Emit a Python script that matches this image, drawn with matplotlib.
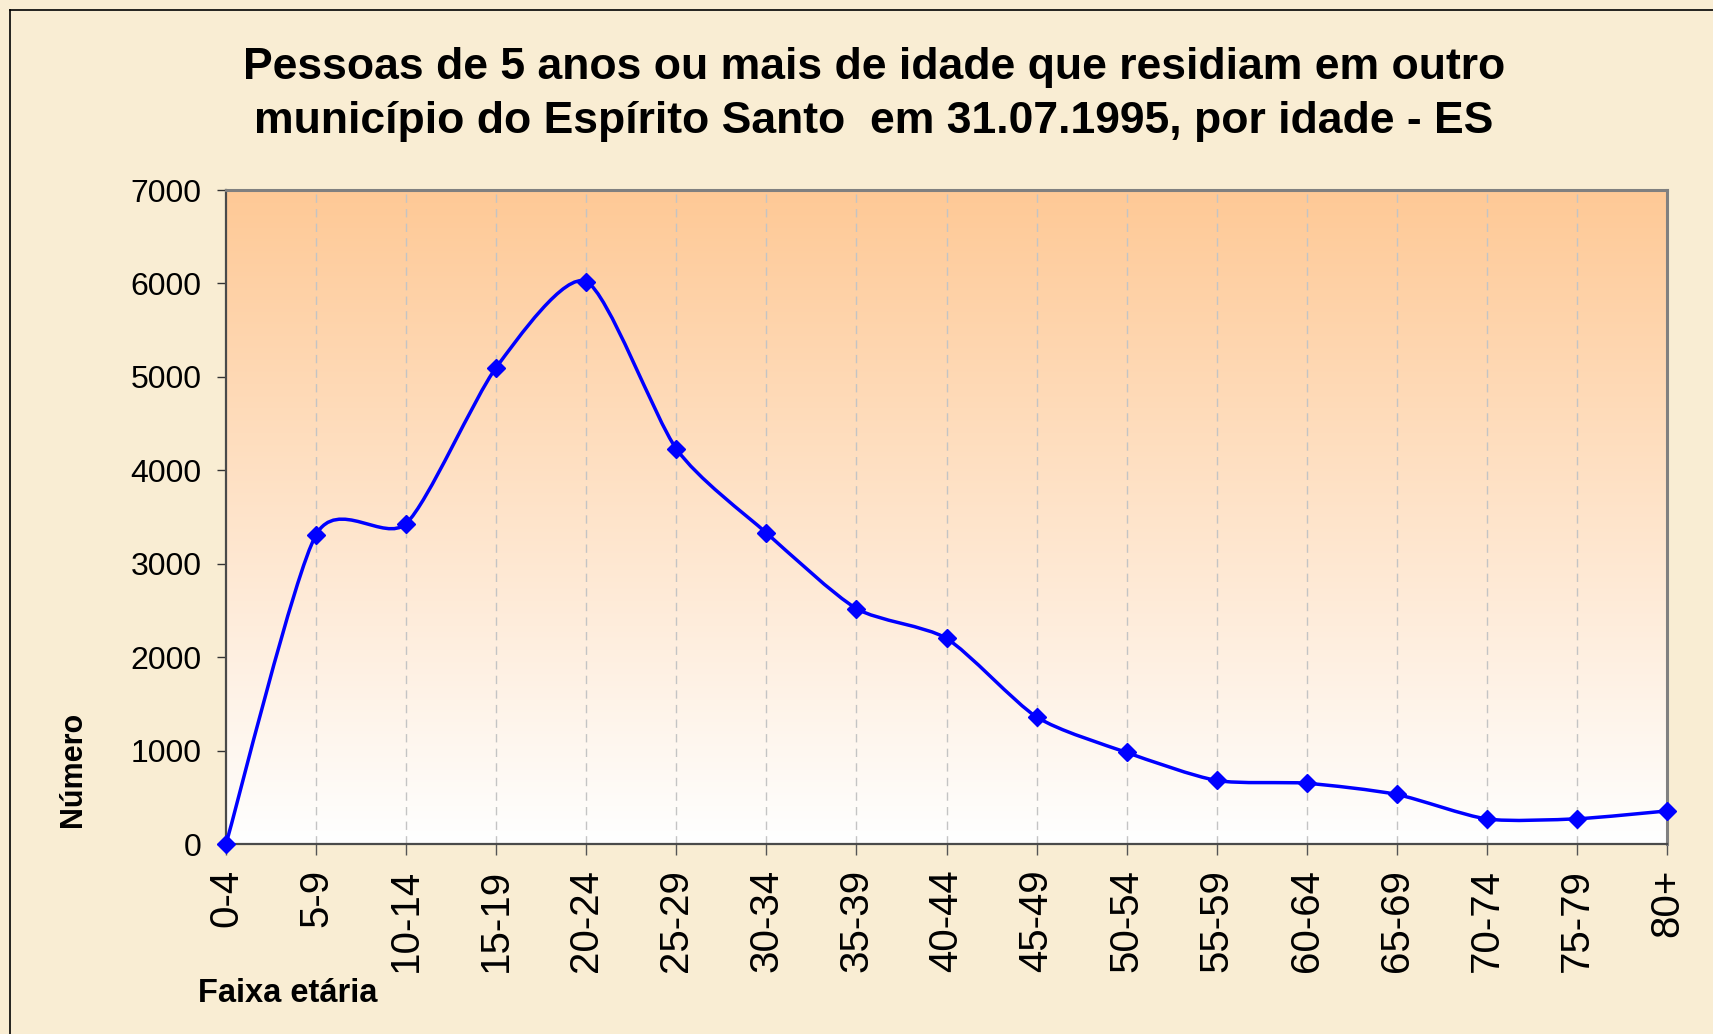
import numpy as np
import matplotlib.pyplot as plt
from matplotlib.path import Path
from matplotlib.patches import PathPatch
from matplotlib.lines import Line2D

plt.rcParams['font.family'] = ['Liberation Sans', 'DejaVu Sans']

faixas = ["0-4", "5-9", "10-14", "15-19", "20-24", "25-29", "30-34", "35-39",
          "40-44", "45-49", "50-54", "55-59", "60-64", "65-69", "70-74",
          "75-79", "80+"]
pessoas = [0, 3310, 3430, 5100, 6020, 4230, 3330, 2520,
           2200, 1360, 980, 680, 650, 530, 268, 270, 354]
y_ticks = [0, 1000, 2000, 3000, 4000, 5000, 6000, 7000]

titulo1 = "Pessoas de 5 anos ou mais de idade que residiam em outro"
titulo2 = "município do Espírito Santo  em 31.07.1995, por idade - ES"


def curva_suave(x, y, k=0.12):
    # linha suavizada tipo Excel (Bezier com tangentes tipo Catmull-Rom)
    x = np.asarray(x, float)
    y = np.asarray(y, float)
    xp = np.concatenate([[x[0]], x, [x[-1]]])
    yp = np.concatenate([[y[0]], y, [y[-1]]])
    verts = [(x[0], y[0])]
    codes = [Path.MOVETO]
    for i in range(len(x) - 1):
        c1 = (x[i] + (xp[i + 2] - xp[i]) * k, y[i] + (yp[i + 2] - yp[i]) * k)
        c2 = (x[i + 1] - (xp[i + 3] - xp[i + 1]) * k,
              y[i + 1] - (yp[i + 3] - yp[i + 1]) * k)
        verts += [c1, c2, (x[i + 1], y[i + 1])]
        codes += [Path.CURVE4] * 3
    return Path(verts, codes)


W, H = 1713, 1034
fig = plt.figure(figsize=(W / 100, H / 100), dpi=100)
fig.patch.set_facecolor('#f9edd3')

left, right, top, bottom = 226, 1667, 190, 844
ax = fig.add_axes([left / W, 1 - bottom / H, (right - left) / W, (bottom - top) / H])

xs = np.arange(len(faixas))
x_max = len(faixas) - 1

# fundo em degrade
c_top = np.array([254, 201, 150]) / 255
c_bot = np.array([255, 255, 255]) / 255
t = np.linspace(0, 1, 256)[:, None]
grad = (c_top * (1 - t) + c_bot * t)[:, None, :]
ax.imshow(grad, extent=[0, x_max, 0, 7000], aspect='auto', origin='upper', zorder=0)

for xi in xs[1:-1]:
    ax.axvline(xi, color='#c4c4c4', lw=1, dashes=(6, 4.5), zorder=1)

ax.add_patch(PathPatch(curva_suave(xs, pessoas), facecolor='none',
                       edgecolor='#0000ff', lw=2.5, zorder=3, clip_on=False))
ax.plot(xs, pessoas, linestyle='none', marker='D', ms=9.5, color='#0000ff',
        zorder=4, clip_on=False)

ax.set_xlim(0, x_max)
ax.set_ylim(0, 7000)
ax.set_xticks(xs)
ax.set_xticklabels(faixas, rotation=90, fontsize=29)
ax.set_yticks(y_ticks)
ax.set_yticklabels([str(v) for v in y_ticks], fontsize=23)
ax.tick_params(axis='x', length=8, width=1, color='#555555', pad=10)
ax.tick_params(axis='y', length=6.5, width=1, color='#333333', pad=11)

for s in ['top', 'right']:
    ax.spines[s].set_color('#808080')
    ax.spines[s].set_linewidth(2.2)
for s in ['left', 'bottom']:
    ax.spines[s].set_color('#4a4a4a')
    ax.spines[s].set_linewidth(1.6)

fig.text(874 / W, 1 - 79 / H, titulo1, ha='center', va='baseline',
         fontsize=32, fontweight='bold')
fig.text(874 / W, 1 - 133 / H, titulo2, ha='center', va='baseline',
         fontsize=32, fontweight='bold')

fig.text(73 / W, 1 - 769 / H, "Número", rotation=90, ha='center', va='center',
         fontsize=22, fontweight='bold')
fig.text(288 / W, 1 - 993 / H, "Faixa etária", ha='center', va='center',
         fontsize=23.5, fontweight='bold')

# moldura externa
fig.add_artist(Line2D([9.5 / W, 9.5 / W], [0, 1 - 9.5 / H], transform=fig.transFigure,
                      color='black', lw=1.2))
fig.add_artist(Line2D([9.5 / W, 1], [1 - 9.5 / H, 1 - 9.5 / H], transform=fig.transFigure,
                      color='black', lw=1.2))

fig.savefig("out.png", dpi=100)
